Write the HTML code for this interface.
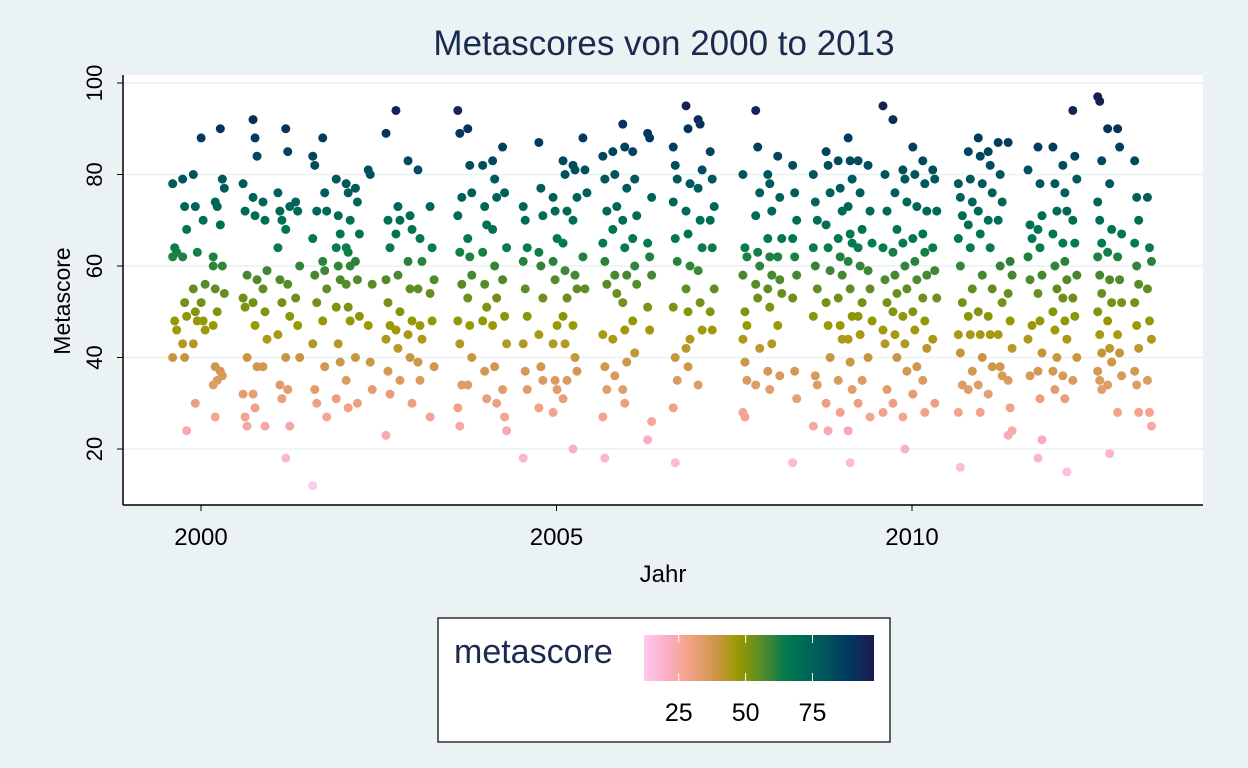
<!DOCTYPE html>
<html><head><meta charset="utf-8"><style>
body{margin:0;background:#eaf2f3;font-family:"Liberation Sans",sans-serif;}
svg{display:block}
</style></head><body>
<svg id="chart" width="1248" height="768">
<rect x="0" y="0" width="1248" height="768" fill="#eaf2f3"/>
<text x="664" y="55" font-size="35" fill="#1a2a50" text-anchor="middle">Metascores von 2000 to 2013</text>
<rect x="123" y="75" width="1080" height="430" fill="#fff"/>
<g id="grid"></g>
<g id="pts"></g>
<line x1="123" y1="75" x2="123" y2="505" stroke="#000" stroke-width="1.5"/>
<line x1="123" y1="505" x2="1203" y2="505" stroke="#000" stroke-width="1.5"/>
<g id="ticks"></g>
<text x="663" y="582" font-size="24" text-anchor="middle">Jahr</text>
<text transform="translate(70,301) rotate(-90)" font-size="23" text-anchor="middle">Metascore</text>
<g>
<rect x="438" y="618" width="452" height="124" fill="#fff" stroke="#000" stroke-width="1.2"/>
<text x="454" y="663" font-size="34" fill="#1a2a50">metascore</text>
<defs><linearGradient id="gr" x1="0" x2="1" y1="0" y2="0"></linearGradient></defs>
<rect x="644" y="635" width="230" height="46" fill="url(#gr)"/>
<g id="lticks"></g>
</g>
</svg>
<script>
const scoreTicks=[20,40,60,80,100];
const yearTicks=[2000,2005,2010];
const legendTicks=[25,50,75];
const stripYears=[1999.63,1999.77,1999.92,2000.03,2000.2,2000.3,2000.62,2000.76,2000.9,2001.11,2001.22,2001.36,2001.6,2001.74,2001.93,2002.07,2002.2,2002.38,2002.63,2002.77,2002.94,2003.08,2003.25,2003.64,2003.78,2003.99,2004.13,2004.27,2004.56,2004.78,2004.98,2005.12,2005.26,2005.4,2005.68,2005.82,2005.96,2006.1,2006.31,2006.67,2006.85,2007.02,2007.19,2007.65,2007.83,2008.0,2008.14,2008.35,2008.64,2008.82,2008.99,2009.13,2009.27,2009.41,2009.62,2009.76,2009.9,2010.04,2010.18,2010.32,2010.68,2010.82,2010.96,2011.1,2011.24,2011.38,2011.66,2011.8,2012.01,2012.15,2012.29,2012.64,2012.78,2012.92,2013.16,2013.34];
const stripScores=[
[78,64,63,62,48,46,40],[79,73,68,62,52,49,43,40,24],[80,73,63,55,50,48,43,30],[88,70,56,52,48,46],
[62,74,73,60,55,50,47,38,35,34,27],[90,79,77,69,60,54,37,36],[78,72,58,53,51,40,32,27,25],
[92,88,84,75,71,57,52,47,38,32,29],[74,70,59,55,50,44,38,25],[76,72,70,64,57,52,45,34,31],
[90,85,73,68,56,49,40,33,25,18],[74,72,60,53,47,40],[84,82,72,66,58,52,43,33,30,12],
[88,76,72,61,59,55,48,38,27],[79,71,67,64,60,57,51,43,39,31],[78,76,70,64,63,60,56,51,48,35,29],
[77,74,67,61,57,49,40,30],[81,80,56,47,39,33],[89,70,64,57,52,47,44,37,32,23],
[94,73,70,67,58,50,46,42,35],[83,71,68,61,55,48,45,40,30],[81,66,61,55,47,44,39,35],
[73,64,57,54,48,38,27],[94,89,75,71,63,56,48,43,34,29,25],[90,82,76,66,62,58,53,47,40,34],
[82,73,69,63,56,51,48,37,31],[83,79,75,68,60,53,47,38,30],[86,76,64,57,49,43,33,27,24],
[73,70,64,61,55,49,43,37,33,18],[87,77,71,63,60,53,45,38,35,29],[75,72,66,61,57,47,43,35,33,28],
[83,80,72,65,59,53,49,43,35,31],[82,81,75,70,58,55,47,40,37,20],[88,81,76,62,55],
[84,79,72,65,61,56,45,38,33,27,18],[85,80,73,68,58,54,44,36],[91,86,77,70,64,58,52,46,39,33,30],
[85,79,71,66,60,56,48,41],[89,88,75,65,62,58,51,46,26,22],[86,82,79,74,66,61,51,40,35,29,17],
[95,90,78,72,67,60,55,50,44,42,38],[92,91,81,77,70,64,59,52,46,34],[85,79,73,70,64,55,50,46],
[80,64,62,58,50,47,44,39,35,28,27],[94,86,76,71,63,60,56,53,42,34],[80,78,72,66,62,58,55,51,43,37,33],
[84,75,66,62,57,54,47,36],[82,76,70,66,62,58,53,37,31,17],[80,74,70,64,60,55,49,36,34,25],
[85,82,76,69,64,59,52,47,40,30,24],[83,77,72,66,62,58,53,47,44,35,28],
[88,83,79,73,67,65,61,55,49,44,39,33,24,17],[83,76,68,64,60,52,49,45,35,30],[82,72,65,59,55,48,40,27],
[95,80,72,64,57,52,46,43,33,28],[92,76,68,63,58,54,50,45,40,30],[81,79,74,65,60,55,49,43,37,27,20],
[86,80,73,66,61,57,50,46,38,32],[83,78,72,67,63,58,53,48,42,35,28],[81,79,72,64,59,53,44,30],
[78,75,71,66,60,52,45,41,34,28,16],[85,79,74,69,64,55,49,45,37,33],[88,84,78,72,67,58,50,45,40,34,28],
[85,82,76,70,64,55,49,45,38,32],[87,80,74,70,60,52,45,38,36],[87,61,58,54,48,42,35,29,24,23],
[81,69,66,62,57,47,44,36],[86,78,71,68,64,58,54,48,41,37,31,22,18],[86,78,72,67,60,55,50,46,40,37,33],
[82,76,72,65,61,57,53,48,44,36,31,15],[94,84,79,70,65,58,53,49,40,35],
[97,96,83,74,70,65,62,58,54,50,45,41,37,35,33],[90,78,68,63,57,52,48,42,39,34,19],
[90,86,67,62,57,52,45,41,36,28],[83,75,70,65,60,56,52,47,42,37,34,28],[75,64,61,55,48,44,35,28,25]];
const NS="http://www.w3.org/2000/svg";
const xs=y=>201+(y-2000)*71.1;
const ys=v=>449-(v-20)*4.575;
const stops=[[12,[255,200,236]],[20,[250,176,205]],[28,[244,162,140]],[40,[200,150,64]],[47,[154,154,0]],[57,[80,138,44]],[65,[0,122,80]],[78,[0,90,92]],[88,[0,58,96]],[98,[32,24,80]]];
function col(v){if(v<=stops[0][0])return stops[0][1];for(let i=1;i<stops.length;i++){if(v<=stops[i][0]){const a=stops[i-1],b=stops[i],t=(v-a[0])/(b[0]-a[0]);return a[1].map((c,k)=>Math.round(c+(b[1][k]-c)*t));}}return stops[stops.length-1][1];}
const rgb=c=>`rgb(${c[0]},${c[1]},${c[2]})`;
function mk(t,a,p){const e=document.createElementNS(NS,t);for(const k in a)e.setAttribute(k,a[k]);p.appendChild(e);return e;}
const grid=document.getElementById('grid'),ticks=document.getElementById('ticks'),pts=document.getElementById('pts');
scoreTicks.forEach(v=>{
 const g=mk('line',{x1:123,x2:1203,y1:ys(v),y2:ys(v),stroke:'#eaf2f3','stroke-width':1.5},grid);
 
 
 const t=mk('line',{x1:117,x2:123,y1:ys(v),y2:ys(v),stroke:'#000'},ticks);
 
 
 const l=mk('text',{transform:`translate(102,${ys(v)}) rotate(-90)`,'font-size':22,'text-anchor':'middle'},ticks);
 l.textContent=v;
 
 
});
yearTicks.forEach(v=>{
 const t=mk('line',{x1:xs(v),x2:xs(v),y1:505,y2:511,stroke:'#000'},ticks);
 
 
 const l=mk('text',{x:xs(v),y:545,'font-size':24,'text-anchor':'middle'},ticks);
 l.textContent=v;
 
 
});
stripYears.forEach((yr,i)=>{stripScores[i].forEach((s,j)=>{
 const c=mk('circle',{cx:xs(yr)+((j%3)-1)*2,cy:ys(s),r:4.5,fill:rgb(col(s))},pts);
 
 
});});
const gr=document.getElementById('gr');
for(let v=12;v<=98;v+=2){mk('stop',{offset:((v-12)/86).toFixed(3),'stop-color':rgb(col(v))},gr);}
const lt=document.getElementById('lticks');
const lx=v=>644+(v-12)*2.674;
legendTicks.forEach(v=>{
 mk('line',{x1:lx(v),x2:lx(v),y1:635,y2:643,stroke:'#fff','stroke-width':1},lt);
 mk('line',{x1:lx(v),x2:lx(v),y1:673,y2:681,stroke:'#fff','stroke-width':1},lt);
 const l=mk('text',{x:lx(v),y:721,'font-size':25,'text-anchor':'middle'},lt);
 l.textContent=v;
 
 
});
</script>
</body></html>
